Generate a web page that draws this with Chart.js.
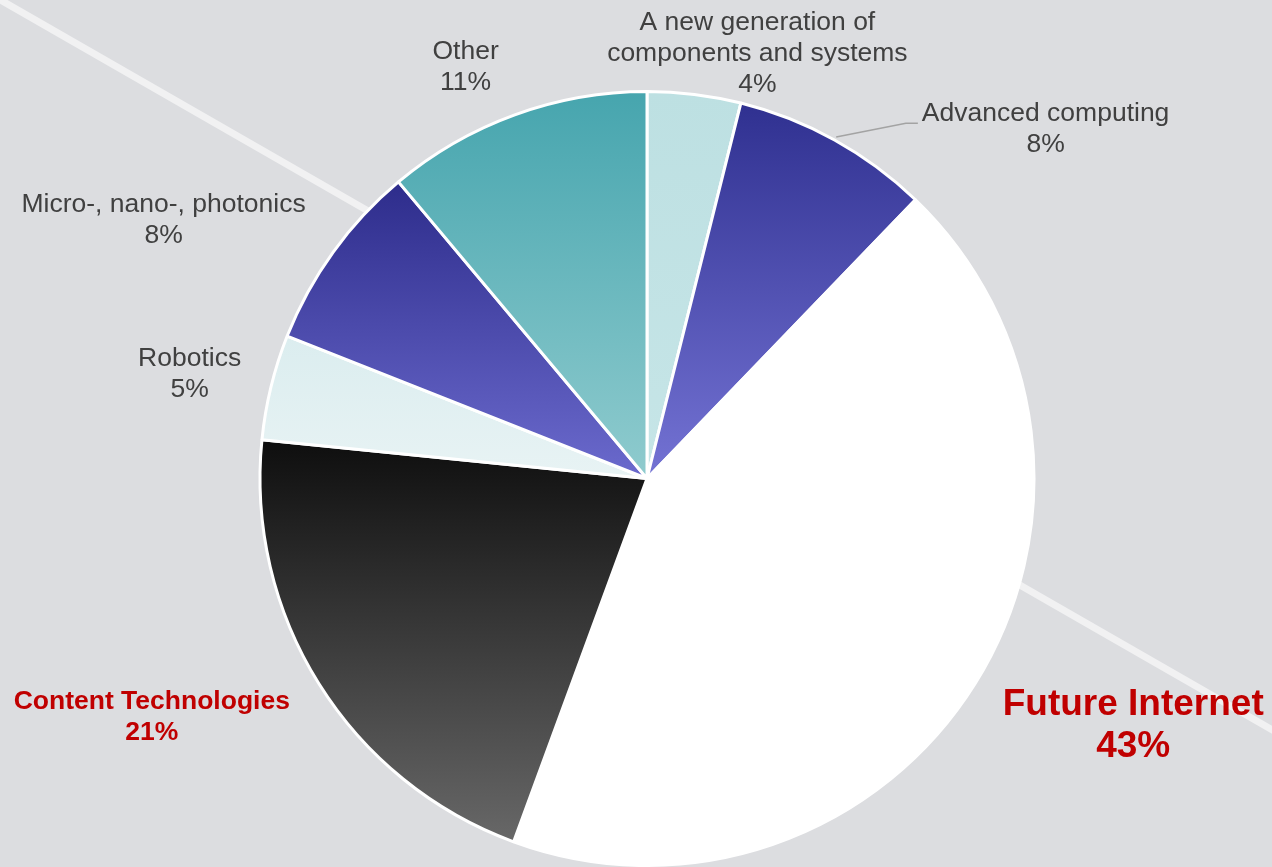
<!DOCTYPE html>
<html>
<head>
<meta charset="utf-8">
<script src="https://cdn.jsdelivr.net/npm/chart.js@4.4.0/dist/chart.umd.min.js"></script>
<style>
  html, body { margin: 0; padding: 0; background: #dcdde0; }
  #wrap { width: 1272px; height: 867px; position: relative; overflow: hidden; }
</style>
</head>
<body>
<div id="wrap"><canvas id="pieChart" width="1272" height="867"></canvas></div>
<script>
// data, clockwise from 12 o'clock
const categories = [
  "A new generation of\ncomponents and systems",
  "Advanced computing",
  "Future Internet",
  "Content Technologies",
  "Robotics",
  "Micro-, nano-, photonics",
  "Other"
];
// slice sizes
const shares = [3.9, 8.3, 43.4, 21.0, 4.4, 7.9, 11.1];
// percentages as printed on the labels
const pctLabels = ["4%", "8%", "43%", "21%", "5%", "8%", "11%"];

// slice colours (vertical gradient top -> bottom)
const topColors = ["#bde0e2", "#2f3090", "#ffffff", "#0e0e0e", "#dbedef", "#2d2c8b", "#46a5ae"];
const bottomColors = ["#c6e5e7", "#7473d4", "#ffffff", "#686868", "#e8f3f4", "#6b6acd", "#8fcbce"];

// label look + nudge from the radial anchor point
const highlight = [false, false, true, true, false, false, false];
const labelNudge = [[58, 0], [191, 26], [123, 20], [-132, 11], [-41, -3], [-136, -8], [-35, -9]];

function sliceGeom(chart, i) {
  const area = chart.chartArea;
  const cx = (area.left + area.right) / 2;
  const cy = (area.top + area.bottom) / 2;
  const r = Math.min(area.right - area.left, area.bottom - area.top) / 2;
  const total = shares.reduce((a, b) => a + b, 0);
  let before = 0;
  for (let k = 0; k < i; k++) before += shares[k];
  const a0 = before / total * Math.PI * 2;
  const a1 = (before + shares[i]) / total * Math.PI * 2;
  return { cx, cy, r, a0, a1 };
}

function sliceFill(context) {
  const chart = context.chart;
  const i = context.dataIndex;
  if (!chart.chartArea) return topColors[i];
  const g = sliceGeom(chart, i);
  // vertical extent of the wedge
  const ys = [g.cy, g.cy - g.r * Math.cos(g.a0), g.cy - g.r * Math.cos(g.a1)];
  if (g.a0 <= 0 && g.a1 >= 0) ys.push(g.cy - g.r);
  if (g.a0 <= Math.PI && g.a1 >= Math.PI) ys.push(g.cy + g.r);
  const y0 = Math.min(...ys), y1 = Math.max(...ys);
  const grad = chart.ctx.createLinearGradient(0, y0, 0, y1);
  grad.addColorStop(0, topColors[i]);
  grad.addColorStop(1, bottomColors[i]);
  return grad;
}

const backdrop = {
  id: "backdrop",
  beforeDraw(chart) {
    const c = chart.ctx;
    c.save();
    c.strokeStyle = "#f1f1f2";
    c.lineWidth = 7;
    c.beginPath();
    c.moveTo(-10, -6);
    c.lineTo(1290, 740);
    c.stroke();
    c.restore();
  }
};

const sliceLabels = {
  id: "sliceLabels",
  afterDraw(chart) {
    const c = chart.ctx;
    c.save();
    c.textAlign = "center";
    c.textBaseline = "middle";
    categories.forEach((name, i) => {
      const g = sliceGeom(chart, i);
      const mid = (g.a0 + g.a1) / 2;
      const dist = g.r + 40;
      const x = g.cx + Math.sin(mid) * dist + labelNudge[i][0];
      const y = g.cy - Math.cos(mid) * dist + labelNudge[i][1];
      const lines = name.split("\n").concat([pctLabels[i]]);
      let size = 26.5, lh = 31;
      if (highlight[i]) {
        size = i === 2 ? 37 : 26.5;
        lh = i === 2 ? 42 : 31;
        c.font = "bold " + size + "px 'Liberation Sans', Arial, sans-serif";
        c.fillStyle = "#c00000";
      } else {
        c.font = size + "px 'Liberation Sans', Arial, sans-serif";
        c.fillStyle = "#404040";
      }
      const top = y - (lines.length - 1) * lh / 2;
      lines.forEach((t, k) => c.fillText(t, x, top + k * lh));

      // leader line for Advanced computing
      if (i === 1) {
        const w = c.measureText(lines[0]).width;
        const ex = g.cx + Math.sin(mid) * (g.r + 2);
        const ey = g.cy - Math.cos(mid) * (g.r + 2);
        const lx = x - w / 2 - 4;
        const ly = top + 9;
        c.strokeStyle = "#a3a3a3";
        c.lineWidth = 1.5;
        c.beginPath();
        c.moveTo(ex, ey);
        c.lineTo(lx - 12, ly);
        c.lineTo(lx, ly);
        c.stroke();
      }
    });
    c.restore();
  }
};

const ctx = document.getElementById("pieChart").getContext("2d");
const myChart = new Chart(ctx, {
  type: "pie",
  data: {
    labels: categories,
    datasets: [{
      data: shares,
      backgroundColor: sliceFill,
      borderColor: "#ffffff",
      borderWidth: 3
    }]
  },
  options: {
    responsive: false,
    animation: false,
    layout: { padding: { top: 90, left: 22, right: 0, bottom: 0 } },
    plugins: {
      legend: { display: false },
      tooltip: { enabled: false }
    }
  },
  plugins: [backdrop, sliceLabels]
});
</script>
</body>
</html>
